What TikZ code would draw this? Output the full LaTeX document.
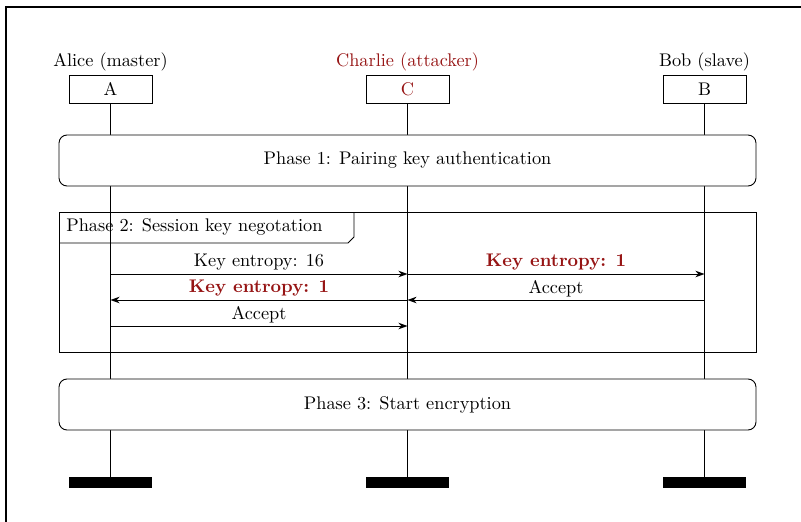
\documentclass[tikz,border=0pt]{standalone}
\usetikzlibrary{arrows.meta}
\definecolor{atk}{RGB}{150,20,20}
\tikzset{
  actorbox/.style={draw, line width=0.5pt, minimum width=45.4pt, minimum height=15.3pt, inner sep=0pt},
  actorlabel/.style={anchor=south, inner sep=1.5pt},
  phasebox/.style={draw, fill=white, line width=0.5pt, rounded corners=4.4pt, minimum width=381.1pt, minimum height=27.9pt},
  endbar/.style={fill=black, minimum width=45.4pt, minimum height=6pt, inner sep=0pt},
  lifeline/.style={line width=0.5pt},
  msg/.style={line width=0.5pt, -{Stealth[length=5pt,width=3.6pt,inset=1.6pt]}},
  msglabel/.style={above, inner sep=1.6pt},
  attacktext/.style={text=atk, font=\bfseries},
}
\begin{document}
\begin{tikzpicture}[x=0.5468pt, y=-0.5468pt]
\useasboundingbox (0,0) rectangle (801,521);
\draw[line width=0.7pt] (6,7) rectangle (830,550);

% actors
\node[actorbox] (hA) at (110.5,89) {A};
\node[actorbox] (hC) at (407.5,89) {\textcolor{atk}{C}};
\node[actorbox] (hB) at (704.5,89) {B};
\node[actorlabel] (lA) at (hA.north) {Alice (master)};
\node[actorlabel, text=atk] (lC) at (hC.north) {Charlie (attacker)};
\node[actorlabel] (lB) at (hB.north) {Bob (slave)};

% end bars
\node[endbar] (eA) at (110.5,482.5) {};
\node[endbar] (eC) at (407.5,482.5) {};
\node[endbar] (eB) at (704.5,482.5) {};

% phase 2 frame
\node[draw, line width=0.5pt, minimum width=381.1pt, minimum height=76.6pt, inner sep=0pt] (p2) at (407.5,282) {};
\draw[line width=0.5pt] (59,243) -- (348,243) -- (354,237) -- (354,212);
\node[anchor=west, inner sep=0pt] (p2l) at (66,227) {Phase 2: Session key negotation};

% lifelines
\draw[lifeline] (hA.south) -- (eA.north);
\draw[lifeline] (hC.south) -- (eC.north);
\draw[lifeline] (hB.south) -- (eB.north);

% phases 1 and 3
\node[phasebox] (p1) at (407.5,160.5) {Phase 1: Pairing key authentication};
\node[phasebox] (p3) at (407.5,404.5) {Phase 3: Start encryption};

% messages
\coordinate (r1) at (0,274);
\coordinate (r2) at (0,300);
\coordinate (r3) at (0,326);
\draw[msg] (hA |- r1) -- (hC |- r1) node[msglabel, midway] {Key entropy: 16};
\draw[msg] (hC |- r1) -- (hB |- r1) node[msglabel, midway, attacktext] {Key entropy: 1};
\draw[msg] (hC |- r2) -- (hA |- r2) node[msglabel, midway, attacktext] {Key entropy: 1};
\draw[msg] (hB |- r2) -- (hC |- r2) node[msglabel, midway] {Accept};
\draw[msg] (hA |- r3) -- (hC |- r3) node[msglabel, midway] {Accept};
\end{tikzpicture}
\end{document}
